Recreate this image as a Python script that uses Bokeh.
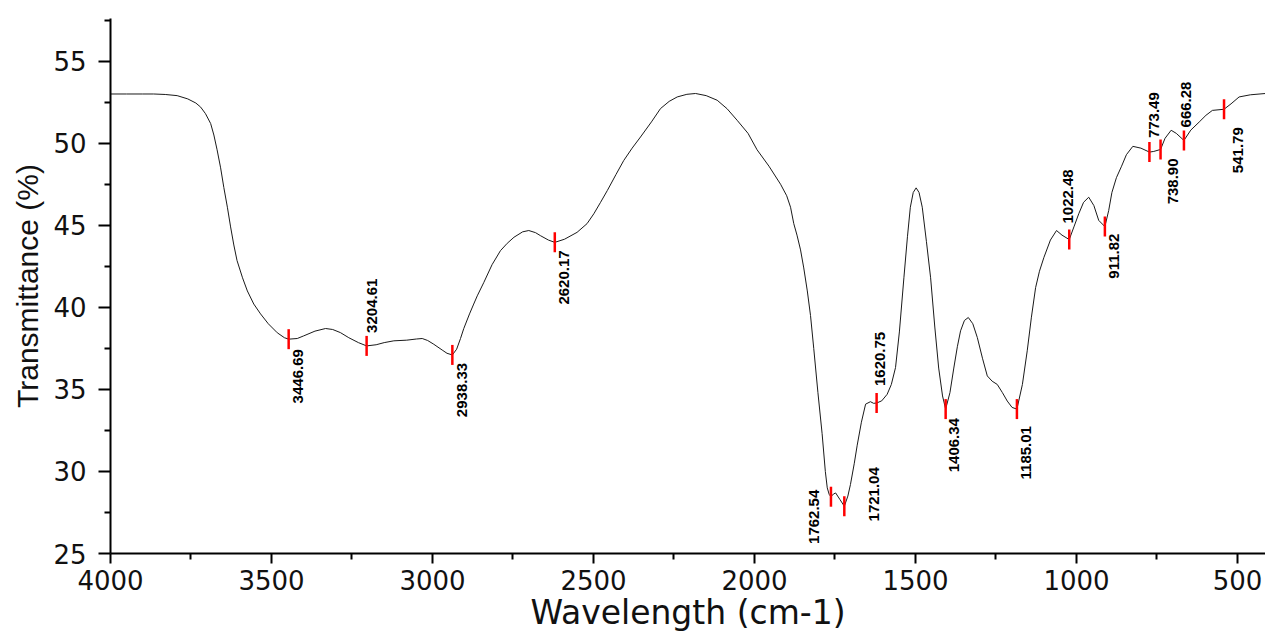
import numpy as np
from bokeh.plotting import figure
from bokeh.models import Range1d, FixedTicker, ColumnDataSource
from bokeh.core.properties import value
from bokeh.embed import file_html
from bokeh.resources import INLINE

# ---- spectrum ----
wavenumber = [4000, 3950, 3900, 3866, 3830, 3793, 3760, 3735, 3720, 3705, 3689, 3679, 3669, 3658,
              3648, 3637, 3627, 3617, 3607, 3590, 3575, 3555, 3534, 3510, 3482, 3460, 3446.69, 3420,
              3400, 3365, 3332, 3310, 3286, 3260, 3230, 3204.61, 3175, 3150, 3120, 3080, 3050, 3032,
              3015, 2996, 2970, 2955, 2938.33, 2925, 2913, 2903, 2885, 2872, 2861, 2841, 2815, 2789,
              2768, 2747, 2720, 2701, 2680, 2665, 2640, 2620.17, 2590, 2551, 2520, 2499, 2478, 2457,
              2430, 2406, 2380, 2354, 2320, 2292, 2265, 2240, 2210, 2183, 2150, 2116, 2085, 2054,
              2020, 1992, 1955, 1919, 1900, 1888, 1878, 1868, 1857, 1847, 1836, 1826, 1816, 1803,
              1790, 1780, 1774, 1768, 1762.54, 1755, 1748, 1735, 1721.04, 1710, 1702, 1690, 1681,
              1668, 1655, 1640, 1630, 1620.75, 1605, 1588, 1575, 1562, 1550, 1536, 1525, 1516, 1507,
              1498, 1489, 1479, 1466, 1453, 1440, 1428, 1416, 1406.34, 1393, 1381, 1370, 1360, 1348,
              1336, 1322, 1308, 1292, 1277, 1262, 1246, 1230, 1215, 1200, 1185.01, 1168, 1153, 1140,
              1127, 1115, 1101, 1081, 1062, 1045, 1022.48, 1008, 993, 978, 962, 946, 931, 911.82,
              900, 890, 876, 860, 845, 825, 800, 773.49, 760, 738.90, 725, 706, 690, 666.28, 645,
              619, 598, 578, 541.79, 520, 495, 460, 413]
transmittance = [53.00, 53.00, 53.00, 53.00, 52.97, 52.90, 52.70, 52.45, 52.20, 51.80, 51.20, 50.50,
                 49.60, 48.50, 47.30, 46.10, 44.90, 43.80, 42.85, 41.80, 41.00, 40.20, 39.60, 39.00,
                 38.45, 38.15, 38.06, 38.10, 38.26, 38.55, 38.71, 38.65, 38.46, 38.15, 37.85, 37.65,
                 37.72, 37.85, 37.96, 38.00, 38.07, 38.10, 37.98, 37.75, 37.40, 37.20, 37.10, 37.45,
                 38.10, 38.70, 39.60, 40.20, 40.70, 41.50, 42.60, 43.45, 43.90, 44.27, 44.60, 44.68,
                 44.55, 44.37, 44.10, 43.96, 44.15, 44.57, 45.10, 45.70, 46.40, 47.12, 48.10, 48.95,
                 49.70, 50.38, 51.30, 52.11, 52.55, 52.82, 52.98, 53.03, 52.90, 52.62, 52.10, 51.40,
                 50.60, 49.60, 48.60, 47.50, 46.80, 46.10, 45.10, 44.40, 43.50, 42.40, 41.00, 39.50,
                 37.50, 34.80, 32.30, 30.00, 29.00, 28.60, 28.46, 28.62, 28.69, 28.30, 27.88, 28.50,
                 29.20, 30.50, 31.60, 33.00, 34.10, 34.25, 34.15, 34.17, 34.30, 34.70, 35.30, 36.33,
                 38.50, 41.80, 44.30, 46.10, 47.00, 47.28, 47.00, 46.10, 44.00, 41.80, 38.80, 36.30,
                 34.60, 33.80, 34.80, 36.30, 37.60, 38.57, 39.20, 39.38, 39.00, 38.16, 36.90, 35.82,
                 35.50, 35.30, 34.80, 34.29, 33.90, 33.80, 35.30, 37.35, 39.40, 41.20, 42.20, 43.05,
                 44.10, 44.68, 44.40, 44.13, 44.90, 45.70, 46.40, 46.71, 46.20, 45.30, 44.92, 45.90,
                 47.00, 47.90, 48.60, 49.30, 49.81, 49.70, 49.46, 49.50, 49.62, 50.30, 50.79, 50.60,
                 50.17, 50.80, 51.29, 51.70, 52.00, 52.07, 52.40, 52.82, 52.95, 53.03]

# ---- marked peaks ----
peak_wn = [3446.69, 3204.61, 2938.33, 2620.17, 1762.54, 1721.04, 1620.75, 1406.34,
           1185.01, 1022.48, 911.82, 773.49, 738.90, 666.28, 541.79]
peak_t = [38.06, 37.65, 37.10, 43.96, 28.46, 27.88, 34.17, 33.80,
          33.80, 44.13, 44.92, 49.46, 49.62, 50.17, 52.07]
label_side = ["below", "above", "below", "below", "below", "below", "above", "below",
              "below", "above", "below", "above", "below", "above", "below"]

# label placement (screen pixels, relative to the peak mark)
label_dx = [9, 5, 10, 9, -17, 30, 3, 8, 9, -1, 9, 5, 12, 2, 14]
label_dy = [10, -13, 8, 8, -7, -39, -17, 9, 17, -16, 7, -14, 9, -13, 18]

x_ticks = [4000, 3500, 3000, 2500, 2000, 1500, 1000, 500]
x_minor = [3750, 3250, 2750, 2250, 1750, 1250, 750]
y_ticks = [25, 30, 35, 40, 45, 50, 55]
y_minor = [27.5, 32.5, 37.5, 42.5, 47.5, 52.5, 57.5]

x_title = "Wavelength (cm-1)"
y_title = "Transmittance (%)"

p = figure(width=1265, height=635, x_range=Range1d(4000, 413), y_range=Range1d(25, 57.6),
           output_backend="svg", toolbar_location=None,
           min_border_left=110, min_border_right=0, min_border_top=18, min_border_bottom=82)
p.background_fill_color = "white"
p.border_fill_color = "white"
p.outline_line_color = None
p.xgrid.visible = False
p.ygrid.visible = False

p.line(wavenumber, transmittance, line_color="#1a1a1a", line_width=1)

p.scatter(peak_wn, peak_t, marker="dash", angle=np.pi / 2, size=20,
          line_color="#ff0000", line_width=2.5)

below = [i for i, s in enumerate(label_side) if s == "below"]
above = [i for i, s in enumerate(label_side) if s == "above"]
for idx, align in ((below, "right"), (above, "left")):
    src = ColumnDataSource(dict(
        x=[peak_wn[i] for i in idx],
        y=[peak_t[i] for i in idx],
        txt=[f"{peak_wn[i]:.2f}" for i in idx],
        dx=[label_dx[i] for i in idx],
        dy=[label_dy[i] for i in idx],
    ))
    p.text(x="x", y="y", text="txt", source=src, angle=np.pi / 2,
           x_offset="dx", y_offset="dy",
           text_font=value("Liberation Sans"), text_font_size=value("15px"),
           text_font_style="bold", text_color="black",
           text_align=align, text_baseline="middle")

for ax in (p.xaxis[0], p.yaxis[0]):
    ax.axis_line_width = 2
    ax.axis_line_color = "black"
    ax.major_tick_line_width = 2
    ax.minor_tick_line_width = 2
    ax.major_tick_in = 0
    ax.minor_tick_in = 0
    ax.major_tick_out = 10
    ax.minor_tick_out = 6
    ax.major_label_text_font = "DejaVu Sans"
    ax.major_label_text_font_size = "26px"
    ax.major_label_text_color = "#111111"
    ax.axis_label_text_font_style = "normal"
    ax.axis_label_text_color = "#111111"

p.xaxis.ticker = FixedTicker(ticks=x_ticks, minor_ticks=x_minor)
p.yaxis.ticker = FixedTicker(ticks=y_ticks, minor_ticks=y_minor)
p.xaxis.major_label_standoff = 6
p.yaxis.major_label_standoff = 12
p.yaxis.major_tick_out = 12

p.xaxis.axis_label = x_title
p.xaxis.axis_label_text_font = "DejaVu Sans"
p.xaxis.axis_label_text_font_size = "33px"
p.xaxis.axis_label_standoff = 0

p.yaxis.axis_label = y_title
p.yaxis.axis_label_text_font = "Liberation Sans"
p.yaxis.axis_label_text_font_size = "30px"
p.yaxis.axis_label_standoff = 6

open("out.html", "w").write(file_html(p, INLINE))
